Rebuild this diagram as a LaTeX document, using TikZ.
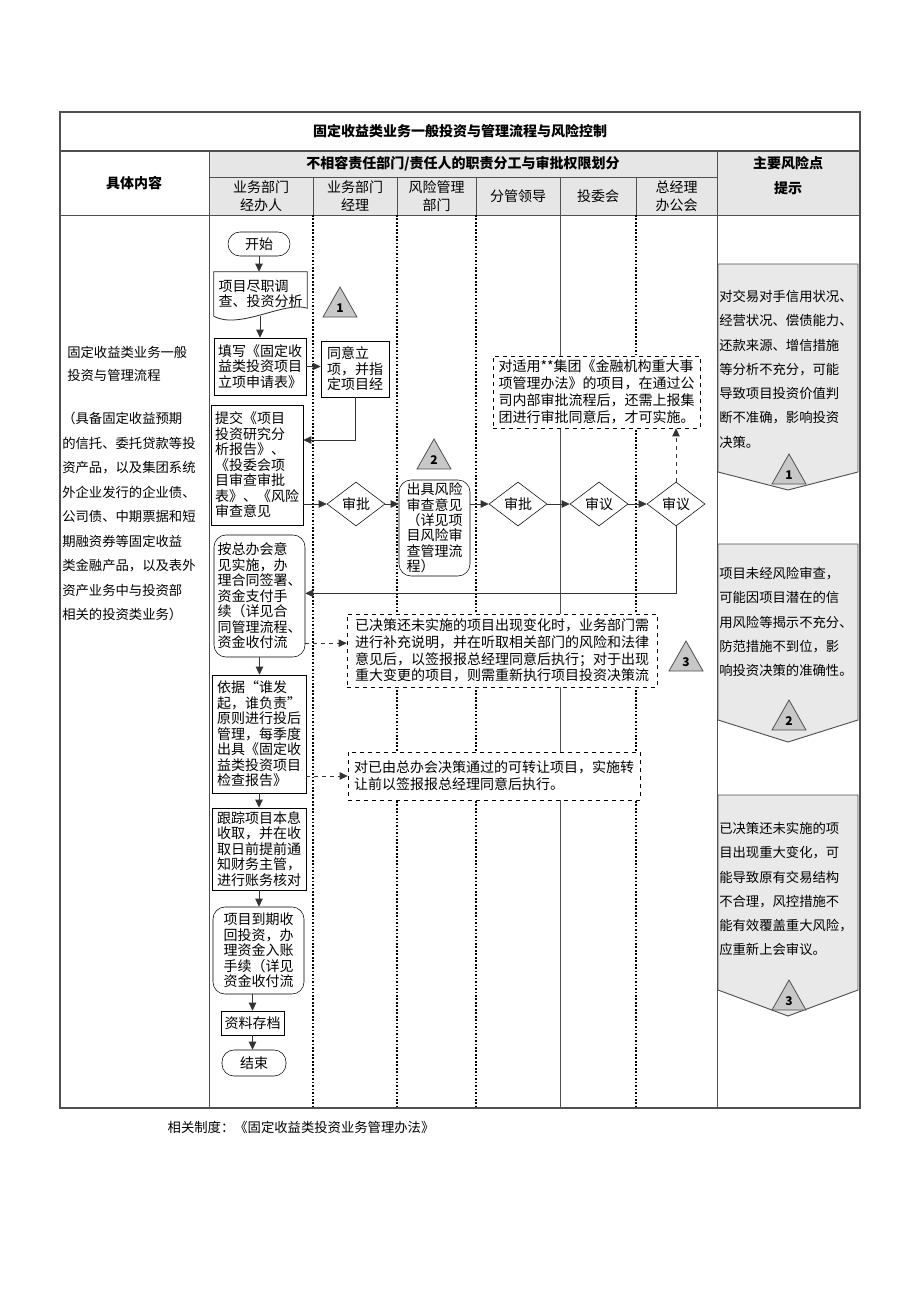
\documentclass[tikz,border=0pt]{standalone}
\usepackage{fontspec}
\setmainfont{Noto Sans CJK SC}
\usetikzlibrary{shapes.geometric,arrows.meta,positioning}

\definecolor{hdrgray}{RGB}{230,230,230}
\definecolor{riskgray}{RGB}{233,233,233}
\definecolor{markgray}{RGB}{200,200,200}
\definecolor{gridline}{RGB}{80,80,80}

\newcommand{\flowfont}{\fontsize{10.5pt}{11.6pt}\selectfont}
\newcommand{\lanefont}{\fontsize{10.5pt}{13.5pt}\selectfont}
\newcommand{\headfont}{\fontsize{10.5pt}{18.7pt}\selectfont}
\newcommand{\notefont}{\fontsize{10.5pt}{12.6pt}\selectfont}
\newcommand{\sidefont}{\fontsize{10pt}{18.2pt}\selectfont}

\tikzset{
  box/.style={draw, fill=white, align=left, font=\flowfont, inner sep=2pt},
  rbox/.style={box, rounded corners=9pt},
  term/.style={draw, fill=white, rounded corners=9pt, font=\flowfont, inner sep=0pt},
  decide/.style={diamond, draw, fill=white, font=\flowfont, inner sep=0pt, aspect=1.3,
    minimum width=43.5pt, minimum height=33pt},
  note/.style={draw, dashed, fill=white, align=left, font=\notefont, inner sep=2pt},
  flow/.style={draw=black!80, line width=0.6pt, -{Triangle[length=6pt,width=5.5pt]}},
  dflow/.style={flow, dashed},
  laneline/.style={line width=1.3pt, dash pattern=on 1.3pt off 1.3pt},
  grid/.style={draw=gridline, line width=0.7pt},
  sidetext/.style={anchor=north west, align=left, font=\sidefont, inner sep=0pt},
  riskmark/.pic={
    \draw[fill=markgray, draw=gridline, line width=0.6pt] (-17,15) -- (0,-15) -- (17,15) -- cycle;
    \node[font=\bfseries\small, inner sep=0pt] (-num) at (0,6) {#1};
  },
}

\begin{document}
\begin{tikzpicture}[x=0.75pt, y=-0.75pt]
  \useasboundingbox (0,0) rectangle (920,1302);

  % header of the table
  \draw[grid] (60,112) rectangle (860,150);
  \node[font=\bfseries\flowfont] (title) at (460,131) {固定收益类业务一般投资与管理流程与风险控制};
  \draw[grid] (60,151) rectangle (209,215);
  \node[font=\bfseries\flowfont] (content) at (134,183) {具体内容};
  \filldraw[grid, fill=hdrgray] (209,151) rectangle (717,177);
  \node[font=\bfseries\flowfont] (duty) at (463,164) {不相容责任部门/责任人的职责分工与审批权限划分};
  \filldraw[grid, fill=hdrgray] (717,151) rectangle (860,215);
  \node[font=\bfseries\headfont, align=center] (riskhead) at (788,176) {主要风险点\\提示};
  \foreach \xa/\xb/\txt [count=\i] in {209/313/{业务部门\\经办人}, 313/397/{业务部门\\经理},
      397/476/{风险管理\\部门}, 476/560/{分管领导}, 560/636/{投委会}, 636/717/{总经理\\办公会}} {
    \filldraw[grid, fill=hdrgray] (\xa,177) rectangle (\xb,215);
    \node[font=\lanefont, align=center] (lane\i) at ({(\xa+\xb)/2},196) {\txt};
  }

  % body and swimlanes
  \draw[grid] (60,215) rectangle (860,1108);
  \draw[grid] (209,215) -- (209,1108);
  \draw[grid] (717,215) -- (717,1108);
  \foreach \x in {313,397,476,636}
    \draw[laneline] (\x,215) -- (\x,1108);
  \draw[draw=gridline, line width=0.6pt] (560,215) -- (560,1108);

  \node[sidetext, font=\fontsize{10pt}{17.3pt}\selectfont] (scope) at (67,346)
    {固定收益类业务一般\\投资与管理流程};
  \node[sidetext, font=\fontsize{10pt}{18.4pt}\selectfont] (scopenote) at (62,412)
    {（具备固定收益预期\\的信托、委托贷款等投\\资产品，以及集团系统\\外企业发行的企业债、\\公司债、中期票据和短\\期融资券等固定收益\\类金融产品，以及表外\\资产业务中与投资部\\相关的投资类业务）};

  % flow
  \node[term, minimum width=46.5pt, minimum height=18pt] (start) at (259,244) {开始};
  \node[font=\flowfont, align=left, inner sep=2pt, minimum width=69.75pt, minimum height=33pt] (duedil) at (260.5,294)
    {项目尽职调\\查、投资分析};
  \draw[draw=black!85, line width=0.6pt] (duedil.south west) -- (duedil.north west) -- (duedil.north east)
    -- ([yshift=6pt]duedil.south east) .. controls +(-22,-8) and +(26,14) .. (duedil.south west);
  \node[box, minimum width=69pt, minimum height=42.75pt] (apply) at (260,366.5)
    {填写《固定收\\益类投资项目\\立项申请表》};
  \node[box, minimum width=51pt, minimum height=42pt] (agree) at (355,369)
    {同意立\\项，并指\\定项目经};
  \node[box, minimum width=69pt, minimum height=90pt] (submit) at (257,465)
    {提交《项目\\投资研究分\\析报告》、\\《投委会项\\目审查审批\\表》、《风险\\审查意见};
  \node[decide] (approve1) at (356,504) {审批};
  \node[rbox, minimum width=53.25pt, minimum height=72pt] (riskrev) at (434.5,528)
    {出具风险\\审查意见\\（详见项\\目风险审\\查管理流\\程）};
  \node[decide] (approve2) at (518,504) {审批};
  \node[decide] (review1) at (599,504) {审议};
  \node[decide] (review2) at (676,504) {审议};
  \node[note, minimum width=155.25pt, minimum height=54pt] (groupnote) at (596.5,392)
    {对适用**集团《金融机构重大事\\项管理办法》的项目，在通过公\\司内部审批流程后，还需上报集\\团进行审批同意后，才可实施。};
  \node[rbox, minimum width=68.25pt, minimum height=91.5pt] (execute) at (259.5,596)
    {按总办会意\\见实施，办\\理合同签署、\\资金支付手\\续（详见合\\同管理流程、\\资金收付流};
  \node[note, minimum width=232.5pt, minimum height=54.75pt] (changenote) at (502,650.5)
    {已决策还未实施的项目出现变化时，业务部门需\\进行补充说明，并在听取相关部门的风险和法律\\意见后，以签报报总经理同意后执行；对于出现\\重大变更的项目，则需重新执行项目投资决策流};
  \node[box, minimum width=70.5pt, minimum height=88.5pt] (postinv) at (259,734)
    {依据“谁发\\起，谁负责”\\原则进行投后\\管理，每季度\\出具《固定收\\益类投资项目\\检查报告》};
  \node[note, minimum width=219pt, minimum height=36pt] (transnote) at (494,776)
    {对已由总办会决策通过的可转让项目，实施转\\让前以签报报总经理同意后执行。};
  \node[box, minimum width=70.5pt, minimum height=61.5pt] (track) at (259,849)
    {跟踪项目本息\\收取，并在收\\取日前提前通\\知财务主管，\\进行账务核对};
  \node[rbox, minimum width=68.25pt, minimum height=65.25pt] (mature) at (258.5,950.5)
    {项目到期收\\回投资，办\\理资金入账\\手续（详见\\资金收付流};
  \node[box, minimum width=47.25pt, minimum height=18pt] (archive) at (252.5,1023) {资料存档};
  \node[term, minimum width=48pt, minimum height=19.5pt] (finish) at (254,1063) {结束};

  \draw[flow] (start.south) -- (start.south |- duedil.north);
  \draw[flow] (apply.north |- duedil.south) -- (apply.north);
  \draw[flow] (apply.east) -- (apply.east -| agree.west);
  \draw[flow] (agree.south) |- ([yshift=18.75pt]submit.east);
  \draw[flow] (approve1.west -| submit.east) -- (approve1.west);
  \draw[flow] (approve1.east) -- (approve1.east -| riskrev.west);
  \draw[flow] (approve2.west -| riskrev.east) -- (approve2.west);
  \draw[flow] (approve2.east) -- (review1.west);
  \draw[flow] (review1.east) -- (review2.west);
  \draw[dflow] (review2.north) -- (review2.north |- groupnote.south);
  \draw[flow] (review2.south) |- ([yshift=2pt]execute.east);
  \draw[dflow] ([yshift=5.5pt]execute.east |- changenote.west) -- ([yshift=5.5pt]changenote.west);
  \draw[flow] (execute.south) -- (execute.south |- postinv.north);
  \draw[dflow] (postinv.east |- transnote.west) -- (transnote.west);
  \draw[flow] (postinv.south) -- (postinv.south |- track.north);
  \draw[flow] (track.south) -- (track.south |- mature.north);
  \draw[flow] (archive.north |- mature.south) -- (archive.north);
  \draw[flow] (archive.south) -- (archive.south |- finish.north);

  \pic (mark1) at (340,302) {riskmark=1};
  \pic (mark2) at (434,454) {riskmark=2};
  \pic (mark3) at (686,656) {riskmark=3};

  % risk points
  \draw[grid, fill=riskgray] (718,264) -- (858,264) -- (858,472) -- (788,490) -- (718,472) -- cycle;
  \node[sidetext] (risk1) at (719,290)
    {对交易对手信用状况、\\经营状况、偿债能力、\\还款来源、增信措施\\等分析不充分，可能\\导致项目投资价值判\\断不准确，影响投资\\决策。};
  \pic (side1) at (789,469) {riskmark=1};

  \draw[grid, fill=riskgray] (718,544) -- (858,544) -- (858,720) -- (788,742) -- (718,720) -- cycle;
  \node[sidetext] (risk2) at (719,567)
    {项目未经风险审查，\\可能因项目潜在的信\\用风险等揭示不充分、\\防范措施不到位，影\\响投资决策的准确性。};
  \pic (side2) at (789,715) {riskmark=2};

  \draw[grid, fill=riskgray] (718,795) -- (858,795) -- (858,990) -- (788,1016) -- (718,990) -- cycle;
  \node[sidetext] (risk3) at (719,822)
    {已决策还未实施的项\\目出现重大变化，可\\能导致原有交易结构\\不合理，风控措施不\\能有效覆盖重大风险，\\应重新上会审议。};
  \pic (side3) at (789,995) {riskmark=3};

  \draw[draw=gridline, line width=1.1pt] (60,112) rectangle (860,1108);
  \node[font=\fontsize{10pt}{12pt}\selectfont] (rules) at (301,1127) {相关制度：《固定收益类投资业务管理办法》};
\end{tikzpicture}
\end{document}
